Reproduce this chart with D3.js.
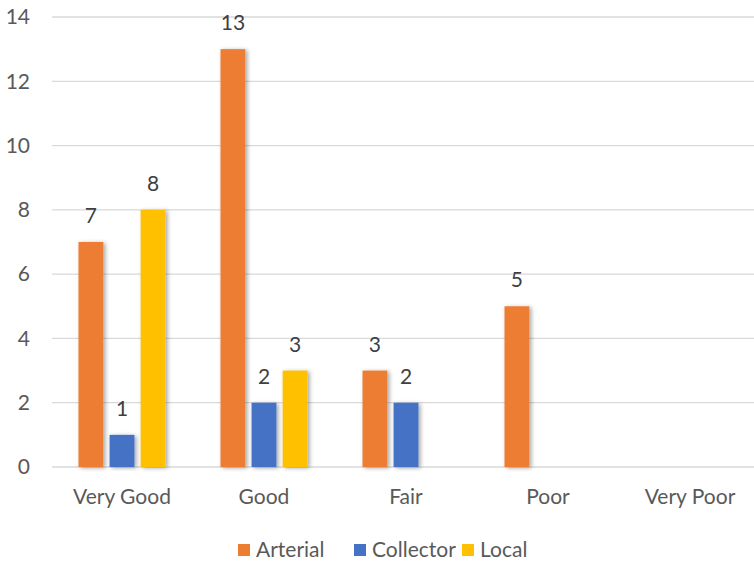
<!DOCTYPE html>
<html>
<head>
<meta charset="utf-8">
<script src="https://cdn.jsdelivr.net/npm/d3@7"></script>
<style>
	body { margin: 0; background: #fff; }
	text { font-family: Lato, "Open Sans", sans-serif; fill: #595959; }
	.val { fill: #404040; }
</style>
</head>
<body>
<svg id="chart" width="754" height="565"></svg>
<script>
"use strict";

var categories = ['Very Good', 'Good', 'Fair', 'Poor', 'Very Poor'];
var seriesNames = ['Arterial', 'Collector', 'Local'];
var arterial = [7, 13, 3, 5, null];
var collector = [1, 2, 2, null, null];
var local = [8, 3, null, null, null];
var yTicks = [0, 2, 4, 6, 8, 10, 12, 14];
var colors = ['#ED7D31', '#4472C4', '#FFC000'];

var svg = d3.select('#chart');
var fs = '21px';

// Soft shadow under the bars
var defs = svg.append('defs');
defs.append('filter').attr('id', 'shadow').attr('x', '-30%').attr('y', '-10%')
	.attr('width', '160%').attr('height', '120%')
	.append('feDropShadow').attr('dx', 2).attr('dy', 1).attr('stdDeviation', 2)
	.attr('flood-color', '#000').attr('flood-opacity', 0.35);

var x0 = d3.scaleBand().domain(categories).range([51, 761]);
var x1 = d3.scaleBand().domain(seriesNames).range([27.5, 114.5]).paddingInner(0.2);
var y = d3.scaleLinear().domain([0, 14]).range([467, 17]);

// Gridlines
svg.append('g').selectAll('line').data(yTicks).join('line')
	.attr('x1', 52).attr('x2', 754)
	.attr('y1', d => y(d)).attr('y2', d => y(d))
	.attr('stroke', '#d9d9d9').attr('stroke-width', 1.3);

// Y tick labels
svg.append('g').selectAll('text').data(yTicks).join('text')
	.attr('x', 30).attr('y', d => y(d)).attr('dy', '0.35em')
	.attr('text-anchor', 'end').style('font-size', fs)
	.text(d => d);

// Bars
var allSeries = [arterial, collector, local];
var rows = [];
allSeries.forEach(function(vals, si) {
	vals.forEach(function(v, ci) {
		if (v != null) rows.push({cat: categories[ci], series: seriesNames[si], value: v, color: colors[si]});
	});
});

var bars = svg.append('g');
bars.selectAll('rect').data(rows).join('rect')
	.attr('x', d => x0(d.cat) + x1(d.series))
	.attr('y', d => y(d.value))
	.attr('width', x1.bandwidth())
	.attr('height', d => y(0) - y(d.value))
	.attr('fill', d => d.color)
	.attr('filter', 'url(#shadow)');

// Value labels
svg.append('g').selectAll('text').data(rows).join('text')
	.attr('class', 'val')
	.attr('x', d => x0(d.cat) + x1(d.series) + x1.bandwidth() / 2)
	.attr('y', d => y(d.value) - 19)
	.attr('text-anchor', 'middle').style('font-size', fs)
	.text(d => d.value);

// Category labels
svg.append('g').selectAll('text').data(categories).join('text')
	.attr('x', d => x0(d) + x0.bandwidth() / 2)
	.attr('y', 497).attr('dy', '0.35em')
	.attr('text-anchor', 'middle').style('font-size', fs)
	.text(d => d);

// Legend
var legendX = [238, 354, 462];
var legend = svg.append('g').selectAll('g').data(seriesNames).join('g')
	.attr('transform', (d, i) => 'translate(' + legendX[i] + ', 550)');
legend.append('rect').attr('x', 0).attr('y', -6).attr('width', 12).attr('height', 12)
	.attr('fill', (d, i) => colors[i]);
legend.append('text').attr('x', 18).attr('y', 0).attr('dy', '0.35em')
	.style('font-size', fs).text(d => d);
</script>
</body>
</html>
